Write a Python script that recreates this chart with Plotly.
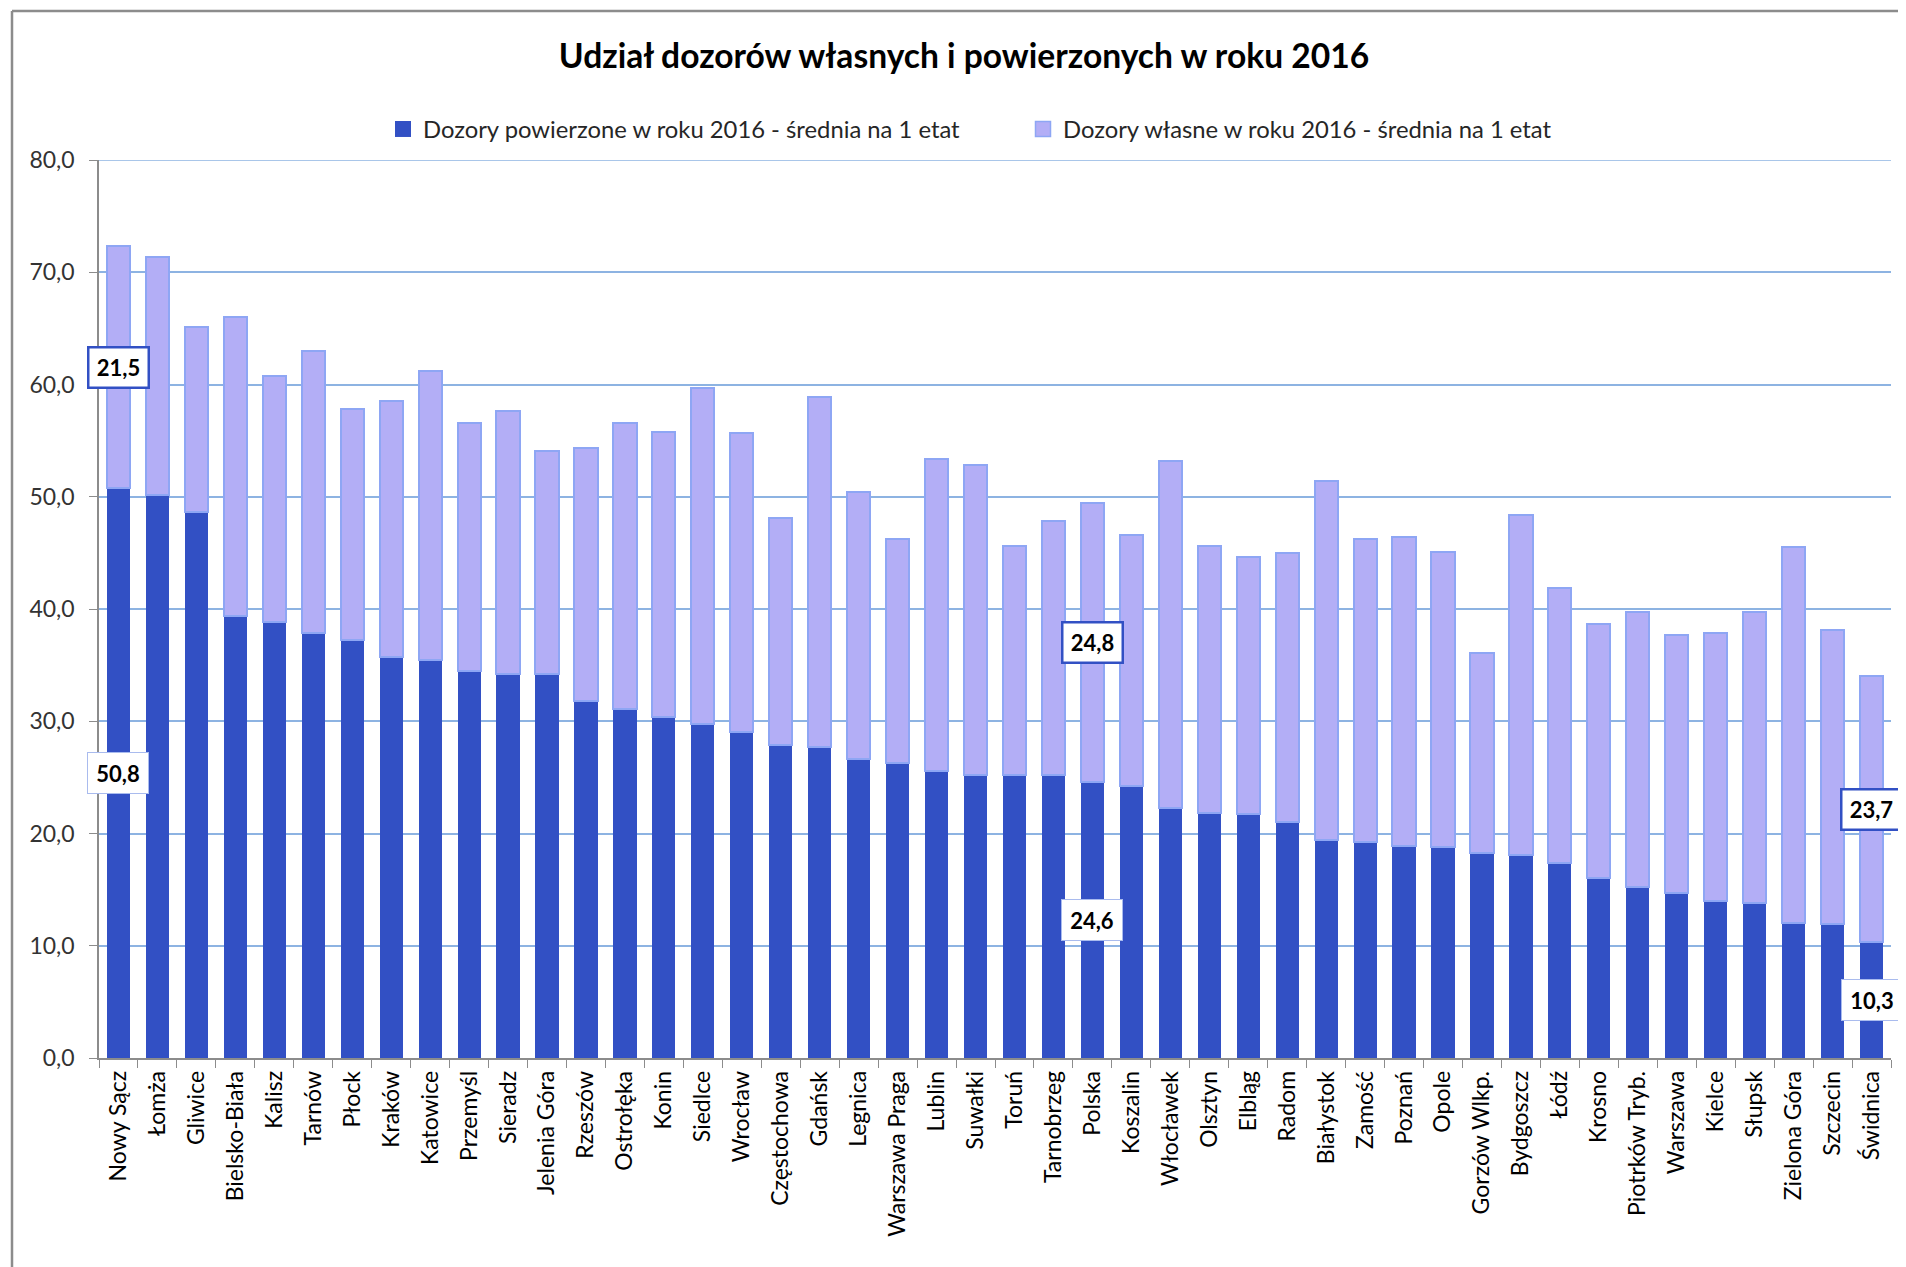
import plotly.graph_objects as go

categories = ["Nowy Sącz", "Łomża", "Gliwice", "Bielsko-Biała", "Kalisz", "Tarnów", "Płock", "Kraków",
              "Katowice", "Przemyśl", "Sieradz", "Jelenia Góra", "Rzeszów", "Ostrołęka", "Konin", "Siedlce",
              "Wrocław", "Częstochowa", "Gdańsk", "Legnica", "Warszawa Praga", "Lublin", "Suwałki", "Toruń",
              "Tarnobrzeg", "Polska", "Koszalin", "Włocławek", "Olsztyn", "Elbląg", "Radom", "Białystok",
              "Zamość", "Poznań", "Opole", "Gorzów Wlkp.", "Bydgoszcz", "Łódź", "Krosno", "Piotrków Tryb.",
              "Warszawa", "Kielce", "Słupsk", "Zielona Góra", "Szczecin", "Świdnica"]

powierzone = [50.8, 50.2, 48.6, 39.4, 38.8, 37.9, 37.2, 35.7, 35.5, 34.5, 34.2, 34.2, 31.8, 31.1, 30.4, 29.8,
              29.0, 27.9, 27.7, 26.6, 26.3, 25.6, 25.2, 25.2, 25.2, 24.6, 24.2, 22.3, 21.8, 21.7, 21.0, 19.4,
              19.2, 18.9, 18.8, 18.3, 18.1, 17.4, 16.0, 15.2, 14.7, 14.0, 13.8, 12.0, 11.9, 10.3]

wlasne = [21.5, 21.2, 16.5, 26.6, 22.0, 25.1, 20.6, 22.8, 25.7, 22.1, 23.4, 19.9, 22.5, 25.5, 25.4, 29.9,
          26.7, 20.2, 31.2, 23.8, 19.9, 27.8, 27.6, 20.4, 22.6, 24.8, 22.4, 30.9, 23.8, 22.9, 24.0, 32.0,
          27.0, 27.5, 26.3, 17.8, 30.3, 24.5, 22.7, 24.5, 23.0, 23.9, 25.9, 33.5, 26.2, 23.7]

y_ticks = [0, 10, 20, 30, 40, 50, 60, 70, 80]

name_pow = "Dozory powierzone w roku 2016 - średnia na 1 etat"
name_wl = "Dozory własne w roku 2016 - średnia na 1 etat"
title = "Udział dozorów własnych i powierzonych w roku 2016"
labelled = ["Nowy Sącz", "Polska", "Świdnica"]

FONT = "Lato"
DARK = "#3250C4"
LIGHT = "#B3AEF6"
LIGHT_EDGE = "#8EA6F4"
GRID = "#8DB3E2"
AXIS = "#8C8C8C"

fig = go.Figure()
fig.add_trace(go.Bar(x=categories, y=powierzone, name=name_pow, showlegend=False,
                     marker=dict(color=DARK, line=dict(width=0))))
fig.add_trace(go.Bar(x=categories, y=wlasne, name=name_wl, showlegend=False,
                     marker=dict(color=LIGHT, line=dict(color=LIGHT_EDGE, width=2))))
# legend entries with larger square keys
fig.add_trace(go.Scatter(x=[None], y=[None], mode="markers", name=name_pow,
                         marker=dict(symbol="square", size=16, color=DARK, line=dict(width=0))))
fig.add_trace(go.Scatter(x=[None], y=[None], mode="markers", name=name_wl,
                         marker=dict(symbol="square", size=15, color=LIGHT, line=dict(color=LIGHT_EDGE, width=1.5))))

# Boxed data labels
for c in labelled:
    i = categories.index(c)
    p, w = powierzone[i], wlasne[i]
    fig.add_annotation(x=c, y=p / 2, text=f"<b>{p:.1f}</b>".replace(".", ","),
                       showarrow=False, bgcolor="white", bordercolor="#A9BBEE", borderwidth=1,
                       width=58, height=38, borderpad=1,
                       font=dict(family=FONT, size=22, color="black"))
    fig.add_annotation(x=c, y=p + w / 2, text=f"<b>{w:.1f}</b>".replace(".", ","),
                       showarrow=False, bgcolor="white", bordercolor=DARK, borderwidth=2.5,
                       width=56, height=36, borderpad=1,
                       font=dict(family=FONT, size=22, color="black"))

# Figure coordinates (page body has an 8px margin)
W, H = 1898, 1259
L, R, T = 91, 15, 152
B = H - 1050
pw, ph = W - L - R, H - T - B
def px(xp): return (xp - L) / pw
def py(yp): return (H - B - yp) / ph

# outer chart frame (top and left edges visible)
fig.add_shape(type="line", xref="paper", yref="paper", x0=px(4), x1=px(W + 20), y0=py(3), y1=py(3),
              line=dict(color=AXIS, width=2.5))
fig.add_shape(type="line", xref="paper", yref="paper", x0=px(4), x1=px(4), y0=py(3), y1=py(H + 20),
              line=dict(color=AXIS, width=2.5))
# top gridline at 80
fig.add_shape(type="line", xref="paper", yref="y", x0=0, x1=1, y0=y_ticks[-1], y1=y_ticks[-1],
              line=dict(color=GRID, width=1.5), layer="below")

fig.update_layout(
    width=W, height=H,
    margin=dict(l=L, r=R, t=T, b=B),
    barmode="stack", bargap=0.405,
    paper_bgcolor="white", plot_bgcolor="white",
    separators=", ",
    font=dict(family=FONT, color="#262626"),
    title=dict(text=f"<b>{title}</b>", x=956 / W, xanchor="center", xref="container",
               y=1 - 48 / H, yanchor="middle", yref="container",
               font=dict(family=FONT, size=33.6, color="black")),
    legend=dict(orientation="h", traceorder="normal", x=px(375), xanchor="left", y=py(121), yanchor="middle",
                font=dict(family=FONT, size=23.8, color="#262626"),
                entrywidth=595, entrywidthmode="pixels", itemwidth=30, tracegroupgap=0),
    showlegend=True,
    xaxis=dict(type="category", range=[-0.5, len(categories) - 0.5], autorange=False,
               tickangle=-90, tickson="boundaries", ticks="outside", ticklen=8,
               tickcolor=AXIS, showline=True, linecolor=AXIS, linewidth=1.5,
               showgrid=False, tickfont=dict(family=FONT, size=23, color="black"),
               ticklabelstandoff=2, automargin=False),
    yaxis=dict(range=[y_ticks[0], y_ticks[-1]], autorange=False, tickvals=y_ticks, tickformat=".1f",
               ticks="outside", ticklen=8,
               tickcolor=AXIS, showline=True, linecolor=AXIS, linewidth=1.5,
               showgrid=True, gridcolor=GRID, gridwidth=1.5, zeroline=False,
               tickfont=dict(family=FONT, size=23, color="#333333"), ticklabelstandoff=10,
               automargin=False),
)

fig.write_html("out.html")
